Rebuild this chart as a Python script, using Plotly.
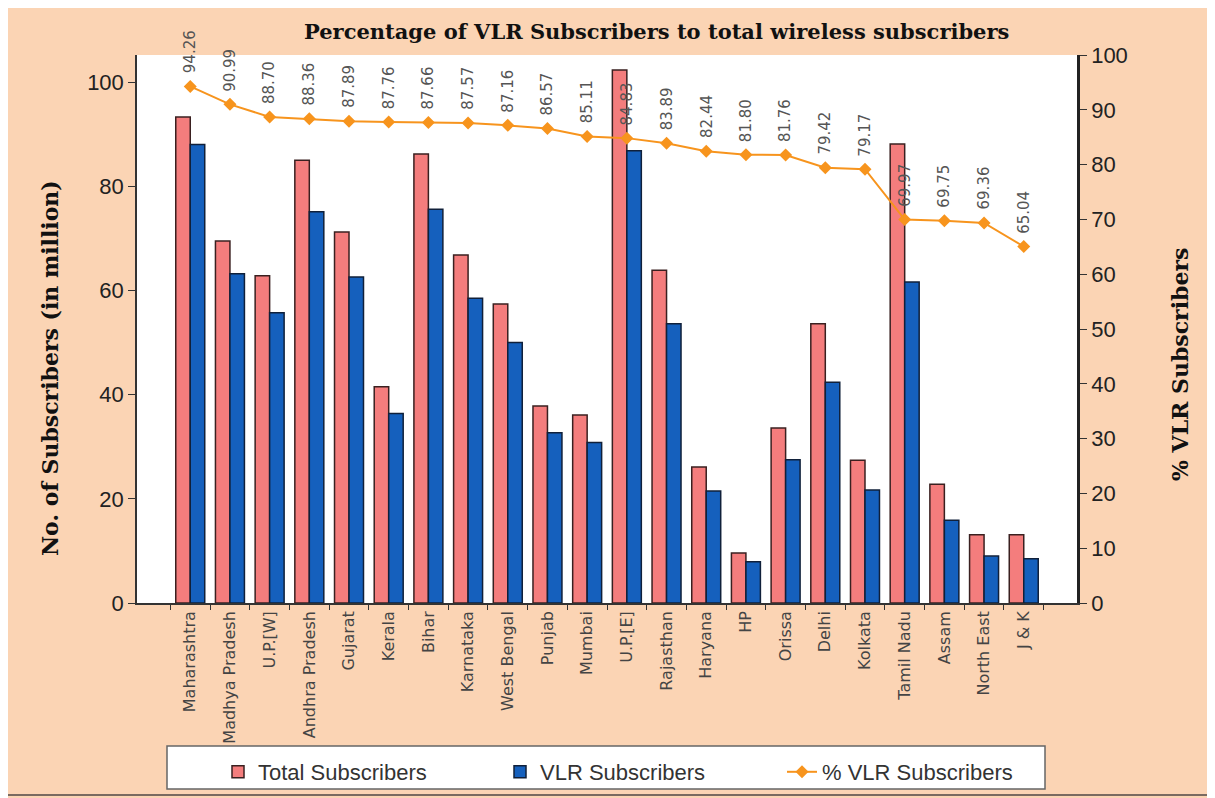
import plotly.graph_objects as go

categories = ["Maharashtra", "Madhya Pradesh", "U.P.[W]", "Andhra Pradesh", "Gujarat", "Kerala",
              "Bihar", "Karnataka", "West Bengal", "Punjab", "Mumbai", "U.P.[E]", "Rajasthan",
              "Haryana", "HP", "Orissa", "Delhi", "Kolkata", "Tamil Nadu", "Assam", "North East", "J & K"]
total_subs = [93.3, 69.5, 62.8, 85.0, 71.2, 41.5, 86.2, 66.8, 57.4, 37.8, 36.1, 102.3, 63.9,
              26.1, 9.6, 33.6, 53.6, 27.4, 88.1, 22.8, 13.1, 13.1]
vlr_subs = [88.0, 63.2, 55.7, 75.1, 62.6, 36.4, 75.6, 58.5, 50.0, 32.7, 30.8, 86.8, 53.6,
            21.5, 7.9, 27.5, 42.4, 21.7, 61.6, 15.9, 9.0, 8.5]
pct_vlr = [94.26, 90.99, 88.70, 88.36, 87.89, 87.76, 87.66, 87.57, 87.16, 86.57, 85.11, 84.83,
           83.89, 82.44, 81.80, 81.76, 79.42, 79.17, 69.97, 69.75, 69.36, 65.04]
pct_labels = ["%.2f" % v for v in pct_vlr]

left_ticks = [0, 20, 40, 60, 80, 100]
right_ticks = [0, 10, 20, 30, 40, 50, 60, 70, 80, 90, 100]

# page body has an 8px margin: figure drawn at (8, 8) in the window
OFF = 8
PX0, PX1, PY0, PY1 = 137, 1077, 55, 603  # plot area in window pixels


def px(X):
    return (X - PX0) / (PX1 - PX0)


def py(Y):
    return (PY1 - Y) / (PY1 - PY0)


BG = "#FBD4B4"
fig = go.Figure()
fig.add_trace(go.Bar(x=categories, y=total_subs, name="Total Subscribers",
                     marker=dict(color="#F47D7D", line=dict(color="#3a2020", width=1.5))))
fig.add_trace(go.Bar(x=categories, y=vlr_subs, name="VLR Subscribers",
                     marker=dict(color="#1560BD", line=dict(color="#10203a", width=1.5))))
fig.add_trace(go.Scatter(x=categories, y=pct_vlr, name="% VLR Subscribers", yaxis="y2",
                         mode="lines+markers",
                         line=dict(color="#F7941D", width=2),
                         marker=dict(symbol="diamond", size=10, color="#F7941D")))

annotations = []
for c, v, t in zip(categories, pct_vlr, pct_labels):
    annotations.append(dict(x=c, y=v, xref="x", yref="y2", text=t, textangle=-90,
                            showarrow=False, yanchor="bottom", xanchor="center", yshift=11,
                            font=dict(family="DejaVu Sans", size=15, color="#555555")))

annotations.append(dict(text="Percentage of VLR Subscribers to total wireless subscribers",
                        xref="paper", yref="paper", x=px(656), y=py(31),
                        xanchor="center", yanchor="middle", showarrow=False,
                        font=dict(family="DejaVu Serif", size=21, color="#111111", weight="bold")))
annotations.append(dict(text="No. of Subscribers (in million)", textangle=-90,
                        xref="paper", yref="paper", x=px(50), y=py(368),
                        xanchor="center", yanchor="middle", showarrow=False,
                        font=dict(family="DejaVu Serif", size=22, color="#111111", weight="bold")))
annotations.append(dict(text="% VLR Subscribers", textangle=-90,
                        xref="paper", yref="paper", x=px(1180), y=py(365),
                        xanchor="center", yanchor="middle", showarrow=False,
                        font=dict(family="DejaVu Serif", size=22, color="#111111", weight="bold")))

fig.update_layout(
    width=1215 - OFF, height=798 - OFF,
    margin=dict(l=PX0 - OFF, r=1215 - PX1, t=PY0 - OFF, b=798 - PY1, autoexpand=False),
    paper_bgcolor=BG, plot_bgcolor="white",
    barmode="group", bargap=0.27, bargroupgap=0.0,
    showlegend=True,
    legend=dict(orientation="h", x=px(218), xanchor="left", y=py(751), yanchor="top",
                bgcolor="rgba(0,0,0,0)", borderwidth=0,
                entrywidth=237, entrywidthmode="pixels",
                font=dict(family="Liberation Sans", size=22, color="#333333")),
    xaxis=dict(showgrid=False, tickangle=-90, ticks="outside", tickson="boundaries", ticklen=5,
               tickcolor="#333333", showline=True, linecolor="#333333", linewidth=1.5,
               automargin=False,
               tickfont=dict(family="DejaVu Sans", size=16, color="#444444")),
    yaxis=dict(range=[0, 105.2], tickvals=left_ticks, showgrid=False, zeroline=False,
               ticks="outside", ticklen=7, tickcolor="#333333", showline=True,
               linecolor="#333333", linewidth=1.5, automargin=False,
               tickfont=dict(family="Liberation Sans", size=22, color="#222222")),
    yaxis2=dict(range=[0, 100], tickvals=right_ticks, overlaying="y", side="right",
                showgrid=False, zeroline=False, ticks="outside", ticklen=7, tickcolor="#333333",
                showline=True, linecolor="#222222", linewidth=2.5, automargin=False,
                tickfont=dict(family="Liberation Sans", size=22, color="#222222")),
    annotations=annotations,
    shapes=[
        dict(type="rect", xref="paper", yref="paper",
             x0=px(4), x1=px(1211), y0=py(795), y1=py(6),
             line=dict(color="#7a6a60", width=2), layer="below"),
        dict(type="rect", xref="paper", yref="paper",
             x0=px(167), x1=px(1045), y0=py(789), y1=py(746),
             fillcolor="white", line=dict(color="#666666", width=1.5), layer="above"),
    ],
)

fig.write_html("out.html")
